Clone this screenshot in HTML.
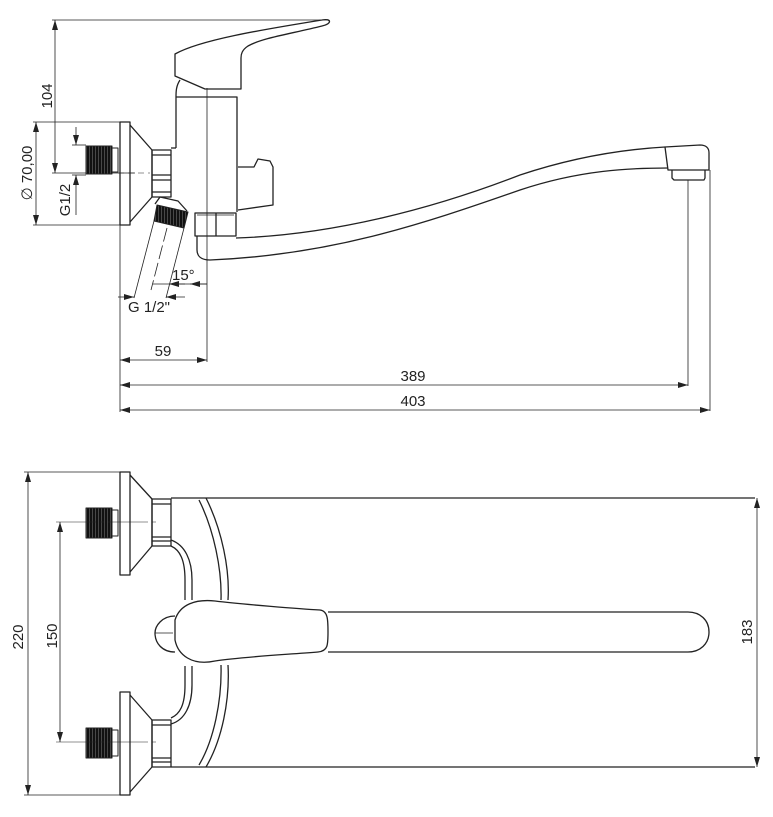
<!DOCTYPE html>
<html><head><meta charset="utf-8"><style>
html,body{margin:0;padding:0;background:#fff;}
svg{display:block;}
text{font-family:"Liberation Sans Narrow","Liberation Sans",sans-serif;font-size:15px;fill:#222;}
</style></head><body>
<svg width="773" height="817" viewBox="0 0 773 817" xmlns="http://www.w3.org/2000/svg">
<defs>
<marker id="a" viewBox="0 0 10 6" refX="10" refY="3" markerWidth="10" markerHeight="6" orient="auto-start-reverse" markerUnits="userSpaceOnUse"><path d="M0,0 L10,3 L0,6z" fill="#222"/></marker>
<pattern id="th" width="3" height="4" patternUnits="userSpaceOnUse"><rect width="3" height="4" fill="#555"/><rect width="2.2" height="4" fill="#111"/></pattern>
</defs>
<g fill="none" stroke="#222" stroke-width="1.3" stroke-linejoin="round">
<line x1="52" y1="20" x2="328" y2="20" stroke-width="0.8"/>
<line x1="55" y1="20" x2="55" y2="173" stroke-width="0.8" marker-start="url(#a)" marker-end="url(#a)"/>
<line x1="52" y1="173" x2="135" y2="173" stroke-width="0.8"/>
<path d="M175,54 C200,40 260,30 322,20 C332,18 332,24 322,26 C290,34 262,38 248,46 C242,50 241,54 241,58 L241,89 L205,89 L175,76 Z"/>
<path d="M180,80 C176,86 176,92 176,97"/>
<path d="M176,97 L237,97 L237,212"/>
<line x1="176" y1="97" x2="176" y2="148"/>
<line x1="176" y1="148" x2="171" y2="148"/>
<line x1="207" y1="88" x2="207" y2="362" stroke-width="0.8"/>
<path d="M238,167 L254,167 L258,159 L270,161 L273,167 L273,205 L238,210"/>
<rect x="120" y="122" width="10" height="103"/>
<path d="M130,125 L152,150 L152,197 L130,222"/>
<rect x="152" y="150" width="19" height="47"/>
<line x1="152" y1="155" x2="171" y2="155"/><line x1="152" y1="175" x2="171" y2="175"/><line x1="152" y1="180" x2="171" y2="180"/><line x1="152" y1="192" x2="171" y2="192"/>
<rect x="86" y="146" width="26" height="28" fill="url(#th)" stroke-width="1"/>
<rect x="112" y="148" width="6" height="24" stroke-width="1"/>
<line x1="118" y1="173" x2="150" y2="173" stroke-width="0.6" stroke-dasharray="6,4"/>
<line x1="33" y1="122" x2="120" y2="122" stroke-width="0.8"/>
<line x1="33" y1="225" x2="120" y2="225" stroke-width="0.8"/>
<line x1="36" y1="122" x2="36" y2="225" stroke-width="0.8" marker-start="url(#a)" marker-end="url(#a)"/>
<line x1="72" y1="145" x2="86" y2="145" stroke-width="0.8"/>
<line x1="76" y1="127" x2="76" y2="145" stroke-width="0.8" marker-end="url(#a)"/>
<line x1="76" y1="215" x2="76" y2="175" stroke-width="0.8" marker-end="url(#a)"/>
<line x1="72" y1="175" x2="86" y2="175" stroke-width="0.8"/>
<path d="M155,204 L160,197 L178,201 L187,211" />
<path d="M157,205 L188,212 L184,228 L154,221 Z" fill="url(#th)" stroke-width="1"/>
<line x1="154" y1="221" x2="134" y2="298" stroke-width="0.8"/>
<line x1="184" y1="228" x2="166" y2="298" stroke-width="0.8"/>
<line x1="167" y1="228" x2="151" y2="290" stroke-width="0.8" stroke-dasharray="14,4"/>
<line x1="118" y1="297" x2="134" y2="297" stroke-width="0.8" marker-end="url(#a)"/>
<line x1="185" y1="297" x2="166" y2="297" stroke-width="0.8" marker-end="url(#a)"/>
<line x1="153" y1="284" x2="207" y2="284" stroke-width="0.8"/>
<line x1="185" y1="284" x2="169" y2="284" stroke-width="0.8" marker-end="url(#a)"/>
<line x1="190" y1="284" x2="207" y2="284" stroke-width="0.8" marker-start="url(#a)"/>
<rect x="195" y="213" width="41" height="23"/>
<line x1="216" y1="213" x2="216" y2="236"/>
<line x1="197" y1="215" x2="234" y2="215" stroke-width="0.8"/>
<path d="M197,236 L197,250 C197,256 201,260 210,260 C330,255 420,225 520,190 C580,170 630,168 668,168"/>
<path d="M236,238 C330,235 430,210 520,175 C580,155 630,149 665,147"/>
<path d="M665,147 L700,145 C706,145 709,148 709,153 L709,170 L668,170 Z"/>
<path d="M672,170 L672,178 L674,180 L704,180 L705,178 L705,170"/>
<line x1="688" y1="180" x2="688" y2="386" stroke-width="0.8"/>
<line x1="710" y1="170" x2="710" y2="411" stroke-width="0.8"/>
<line x1="120" y1="225" x2="120" y2="412" stroke-width="0.8"/>
<line x1="120" y1="360" x2="207" y2="360" stroke-width="0.8" marker-start="url(#a)" marker-end="url(#a)"/>
<line x1="120" y1="385" x2="688" y2="385" stroke-width="0.8" marker-start="url(#a)" marker-end="url(#a)"/>
<line x1="120" y1="410" x2="710" y2="410" stroke-width="0.8" marker-start="url(#a)" marker-end="url(#a)"/>

<line x1="24" y1="472" x2="120" y2="472" stroke-width="0.8"/>
<line x1="24" y1="795" x2="120" y2="795" stroke-width="0.8"/>
<line x1="28" y1="472" x2="28" y2="795" stroke-width="0.8" marker-start="url(#a)" marker-end="url(#a)"/>
<line x1="60" y1="522" x2="60" y2="742" stroke-width="0.8" marker-start="url(#a)" marker-end="url(#a)"/>
<rect x="120" y="472" width="10" height="103"/>
<path d="M130,475 L152,499 L152,546 L130,572"/>
<rect x="120" y="692" width="10" height="103"/>
<path d="M130,695 L152,720 L152,767 L130,792"/>
<rect x="86" y="508" width="26" height="30" fill="url(#th)" stroke-width="1"/>
<rect x="112" y="510" width="6" height="26" stroke-width="1"/>
<rect x="86" y="728" width="26" height="30" fill="url(#th)" stroke-width="1"/>
<rect x="112" y="730" width="6" height="26" stroke-width="1"/>
<line x1="56" y1="522" x2="160" y2="522" stroke-width="0.6" stroke-dasharray="40,4,4,4"/>
<line x1="56" y1="742" x2="160" y2="742" stroke-width="0.6" stroke-dasharray="40,4,4,4"/>
<rect x="152" y="499" width="19" height="47"/>
<line x1="152" y1="504" x2="171" y2="504"/><line x1="152" y1="537" x2="171" y2="537"/><line x1="152" y1="541" x2="171" y2="541"/>
<rect x="152" y="720" width="19" height="47"/>
<line x1="152" y1="725" x2="171" y2="725"/><line x1="152" y1="758" x2="171" y2="758"/><line x1="152" y1="762" x2="171" y2="762"/>
<line x1="171" y1="498" x2="755" y2="498"/>
<line x1="171" y1="767" x2="755" y2="767"/>
<path d="M206,498 C222,530 230,570 228,600"/>
<path d="M199,500 C214,530 222,570 221,600"/>
<path d="M228,665 C230,700 222,740 206,767"/>
<path d="M221,665 C222,700 214,740 199,765"/>
<path d="M171,540 C185,545 192,560 192,580 L192,600"/>
<path d="M171,546 C180,550 185,560 185,580 L185,600"/>
<path d="M171,724 C185,720 192,705 192,685 L192,666"/>
<path d="M171,718 C180,714 185,705 185,685 L185,666"/>
<path d="M175,616 C162,616 155,626 155,633 C155,643 162,652 175,652"/>
<line x1="155" y1="633" x2="173" y2="633" stroke-width="0.8"/>
<path d="M175,620 C180,604 196,599 215,601 C240,604 300,609 320,610 C328,611 328,620 328,632 C328,645 328,651 318,652 C280,655 240,657 215,661 C192,666 178,655 175,640 Z" fill="#fff"/>
<path d="M328,612 L688,612 C700,612 709,620 709,632 C709,644 700,652 688,652 L328,652"/>
<line x1="757" y1="498" x2="757" y2="767" stroke-width="0.8" marker-start="url(#a)" marker-end="url(#a)"/>
</g>
<text transform="translate(52,96) rotate(-90)" text-anchor="middle">104</text>
<text transform="translate(32,173) rotate(-90)" text-anchor="middle">∅ 70,00</text>
<text transform="translate(70,200) rotate(-90)" text-anchor="middle">G1/2</text>
<text x="172" y="280">15°</text>
<text x="128" y="312">G 1/2"</text>
<text x="163" y="356" text-anchor="middle">59</text>
<text x="413" y="381" text-anchor="middle">389</text>
<text x="413" y="406" text-anchor="middle">403</text>
<text transform="translate(23,637) rotate(-90)" text-anchor="middle">220</text>
<text transform="translate(57,636) rotate(-90)" text-anchor="middle">150</text>
<text transform="translate(752,632) rotate(-90)" text-anchor="middle">183</text>
</svg>
</body></html>
